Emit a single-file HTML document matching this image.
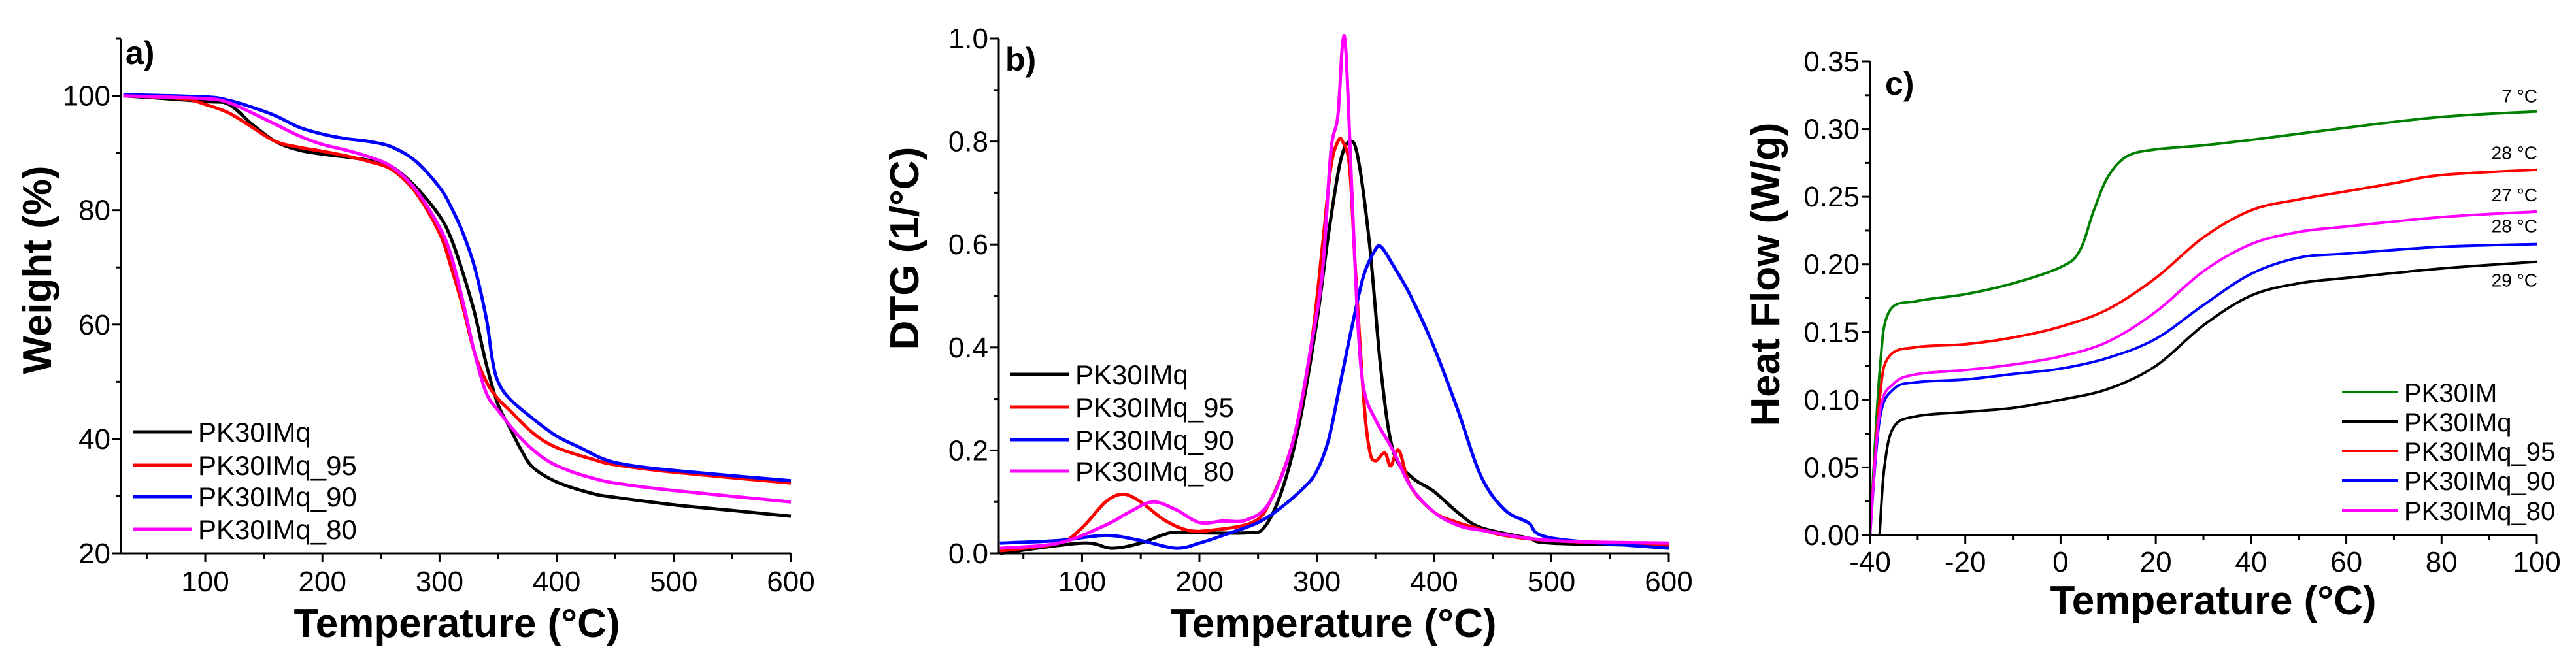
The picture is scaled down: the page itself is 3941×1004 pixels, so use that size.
<!DOCTYPE html>
<html><head><meta charset="utf-8"><style>
html,body{margin:0;padding:0;background:#fff}
svg{display:block}
text{font-family:"Liberation Sans",sans-serif;fill:#000}
</style></head><body>
<svg id="fig" width="3941" height="1004" viewBox="0 0 3941 1004" xmlns="http://www.w3.org/2000/svg"></svg>
<script>
// ---- Panel a data (TGA) ----
const aTemps_black=[30,100,120,140,160,180,200,220,240,260,280,300,310,320,330,340,350,360,370,380,400,430,450,500,550,600];
const aW_black=[100,99,98.5,95,92,90.5,89.8,89.3,88.7,87.5,84,79,75,69,62,53,46,42,38,35,32.5,30.5,29.8,28.5,27.5,26.5];
const aTemps_red=[30,80,100,120,140,160,180,200,220,240,260,280,300,310,320,330,340,350,360,380,400,430,450,500,600];
const aW_red=[100,99.5,98.5,97,94.5,92,91,90.3,89.5,88.5,87,83,76,70,63,55,50,47,45,41,38.5,36.5,35.5,34.2,32.3];
const aTemps_blue=[30,100,120,140,160,180,200,220,240,260,280,300,310,320,330,340,345,350,360,380,400,420,440,460,500,600];
const aW_blue=[100.2,99.8,99.2,98,96.5,94.5,93.3,92.5,92,91,88.5,84,80.5,76,70,61,54,50,47,43.5,40.5,38.5,36.5,35.5,34.5,32.7];
const aTemps_mag=[30,100,120,140,160,180,200,220,240,260,280,300,310,320,330,340,350,370,390,410,430,450,500,600];
const aW_mag=[100,99.5,98.8,97,95,93,91.5,90.5,89.3,87.5,83.5,77,72,64,55,48,45,40,36.5,34.5,33.2,32.3,31,29];
// ---- Panel b data (DTG) ----
const bT_black=[30,100,125,150,175,200,240,255,270,285,300,310,320,328,335,345,355,365,380,400,420,440,480,500,600];
const bD_black=[0,0.02,0.01,0.02,0.04,0.04,0.04,0.05,0.12,0.25,0.45,0.62,0.76,0.8,0.77,0.6,0.35,0.2,0.15,0.12,0.08,0.05,0.03,0.02,0.015];
const bT_red=[30,80,100,120,135,150,170,190,210,245,260,280,295,305,312,318,322,328,333,340,345,350,358,363,370,380,400,420,435,460,500,600];
const bD_red=[0.005,0.02,0.05,0.1,0.115,0.1,0.065,0.045,0.045,0.06,0.1,0.22,0.4,0.6,0.75,0.8,0.8,0.75,0.55,0.3,0.2,0.18,0.195,0.17,0.2,0.13,0.08,0.06,0.05,0.035,0.025,0.015];
const bT_blue=[30,80,120,150,180,200,220,250,270,290,300,310,320,330,340,350,355,365,380,400,420,440,460,480,500,600];
const bD_blue=[0.02,0.025,0.035,0.025,0.01,0.02,0.035,0.06,0.09,0.13,0.16,0.22,0.33,0.44,0.54,0.59,0.595,0.56,0.5,0.4,0.28,0.15,0.085,0.06,0.03,0.01];
const bT_mag=[30,80,120,140,160,180,200,220,240,260,280,295,305,312,318,322,325,330,335,340,350,365,380,400,420,440,500,600];
const bD_mag=[0.01,0.02,0.055,0.08,0.1,0.085,0.06,0.063,0.065,0.1,0.22,0.4,0.55,0.78,0.85,0.99,0.97,0.7,0.45,0.32,0.26,0.2,0.13,0.08,0.055,0.045,0.025,0.02];
// ---- Panel c data (DSC) ----
const cT_green=[-40,-38,-36,-30,-20,-10,0,4,7,10,14,20,30,40,60,80,100];
const cH_green=[0,0.12,0.165,0.173,0.178,0.186,0.198,0.21,0.24,0.265,0.28,0.285,0.288,0.292,0.301,0.309,0.313];
const cT_black=[-38,-37,-35,-30,-20,-10,0,10,20,30,40,50,60,80,100];
const cH_black=[0,0.05,0.08,0.088,0.091,0.094,0.1,0.108,0.125,0.155,0.177,0.186,0.19,0.197,0.202];
const cT_red=[-40,-38,-36,-30,-20,-10,0,10,20,30,40,50,60,70,80,100];
const cH_red=[0,0.1,0.132,0.139,0.141,0.146,0.154,0.167,0.19,0.22,0.24,0.248,0.254,0.26,0.266,0.27];
const cT_blue=[-40,-38,-35,-30,-20,-10,0,10,20,30,40,50,60,80,100];
const cH_blue=[0,0.085,0.108,0.113,0.115,0.119,0.123,0.131,0.145,0.17,0.193,0.205,0.208,0.213,0.215];
const cT_mag=[-40,-38,-35,-30,-20,-10,0,10,20,30,40,50,60,80,100];
const cH_mag=[0,0.09,0.112,0.119,0.122,0.126,0.132,0.143,0.165,0.195,0.215,0.224,0.228,0.235,0.239];
const cLabels=["7 °C","28 °C","27 °C","28 °C","29 °C"];
const cLabelYs=[0.313,0.27,0.239,0.215,0.202];

const NS="http://www.w3.org/2000/svg";
const svg=document.getElementById('fig');
function el(tag,attrs,parent){const e=document.createElementNS(NS,tag);for(const k in attrs)e.setAttribute(k,attrs[k]);(parent||svg).appendChild(e);return e;}
function path(xs,ys,sx,sy){
  const p=xs.map((x,i)=>[sx(x),sy(ys[i])]);
  let d=`M${p[0][0].toFixed(1)},${p[0][1].toFixed(1)}`;
  for(let i=0;i<p.length-1;i++){
    const p0=p[i-1]||p[i],p1=p[i],p2=p[i+1],p3=p[i+2]||p2;
    const c1=[p1[0]+(p2[0]-p0[0])/6,p1[1]+(p2[1]-p0[1])/6];
    const c2=[p2[0]-(p3[0]-p1[0])/6,p2[1]-(p3[1]-p1[1])/6];
    d+=` C${c1[0].toFixed(1)},${c1[1].toFixed(1)} ${c2[0].toFixed(1)},${c2[1].toFixed(1)} ${p2[0].toFixed(1)},${p2[1].toFixed(1)}`;
  }
  return d;
}
function isMaj(v,origin,step){const q=(v-origin)/step;return Math.abs(q-Math.round(q))<1e-6;}
function panel(cfg){
  const g=el('g',{});
  
  
  const sx=v=>cfg.x0+(v-cfg.xmin)/(cfg.xmax-cfg.xmin)*(cfg.x1-cfg.x0);
  const sy=v=>cfg.y0-(v-cfg.ymin)/(cfg.ymax-cfg.ymin)*(cfg.y0-cfg.y1);
  cfg.series.forEach(s=>{
    const p=el('path',{d:path(s.x,s.y,sx,sy),fill:'none',stroke:s.c,'stroke-width':cfg.lw,'stroke-linejoin':'round'},g);
    
    
  });
  const ax=el('path',{d:`M${cfg.x0},${cfg.y1} V${cfg.y0} H${cfg.x1}`,fill:'none',stroke:'#000','stroke-width':3},g);
  
  
  for(let i=0;;i++){
    const v=cfg.xt0+i*cfg.xminor; if(v>cfg.xmax+1e-9)break;
    const major=isMaj(v,cfg.xmaj0,cfg.xstep);
    el('line',{x1:sx(v),x2:sx(v),y1:cfg.y0,y2:cfg.y0+(major?13:8),stroke:'#000','stroke-width':3},g);
    if(major){const t=el('text',{x:sx(v),y:cfg.y0+cfg.xlabdy,'font-size':44,'text-anchor':'middle'},g);t.textContent=cfg.xfmt(v);
      }
  }
  for(let i=0;;i++){
    const v=cfg.ymin+i*cfg.yminor; if(v>cfg.ymax+1e-9)break;
    const major=isMaj(v,cfg.ymin,cfg.ystep);
    el('line',{x1:cfg.x0,x2:cfg.x0-(major?13:8),y1:sy(v),y2:sy(v),stroke:'#000','stroke-width':3},g);
    if(major&&v<=cfg.ylabmax+1e-9){const t=el('text',{x:cfg.x0-16,y:sy(v)+15,'font-size':44,'text-anchor':'end'},g);t.textContent=cfg.yfmt(v);
      }
  }
  const xt=el('text',{x:cfg.xtx,y:cfg.xty,'font-size':62,'font-weight':'bold','text-anchor':'middle'},g);
  xt.textContent='Temperature (°C)';
  const yt=el('text',{x:0,y:0,'font-size':62,'font-weight':'bold','text-anchor':'middle',transform:`translate(${cfg.ytx},${cfg.yty}) rotate(-90)`},g);
  yt.textContent=cfg.ytitle;
  const pl=el('text',{x:cfg.plx,y:cfg.ply,'font-size':50,'font-weight':'bold'},g);
  pl.textContent=cfg.plabel;
  cfg.series.forEach((s,i)=>{
    const ly=cfg.legY[i];
    const lg=el('g',{},g);
    
    
    el('line',{x1:cfg.legX,x2:cfg.legX+cfg.legW,y1:ly,y2:ly,stroke:s.c,'stroke-width':cfg.lw},lg);
    const t=el('text',{x:cfg.legX+cfg.legW+10,y:ly+15,'font-size':cfg.legFs},lg);t.textContent=s.n;
  });
  return {sx,sy,g};
}
const C={k:'#000000',r:'#ff0000',b:'#0000ff',m:'#ff00ff',g:'#008000'};
panel({name:'panel-a-tga',x0:185,x1:1210,y0:847,y1:59,xmin:28,xmax:600,ymin:20,ymax:110,ylabmax:100,
  xt0:50,xmaj0:0,xstep:100,xminor:50,ystep:20,yminor:10,xfmt:v=>String(Math.round(v)),yfmt:v=>String(Math.round(v)),
  lw:5,xlabdy:58,xtx:699,xty:975,ytx:78,yty:413,ytitle:'Weight (%)',plabel:'a)',plx:192,ply:98,
  legX:203,legW:90,legY:[661,712,760,810],legFs:42,
  series:[{n:'PK30IMq',c:C.k,x:aTemps_black,y:aW_black},{n:'PK30IMq_95',c:C.r,x:aTemps_red,y:aW_red},
          {n:'PK30IMq_90',c:C.b,x:aTemps_blue,y:aW_blue},{n:'PK30IMq_80',c:C.m,x:aTemps_mag,y:aW_mag}]});
panel({name:'panel-b-dtg',x0:1528,x1:2553,y0:847,y1:59,xmin:29,xmax:600,ymin:0,ymax:1.0,ylabmax:1.0,
  xt0:50,xmaj0:0,xstep:100,xminor:50,ystep:0.2,yminor:0.1,xfmt:v=>String(Math.round(v)),yfmt:v=>v.toFixed(1),
  lw:5,xlabdy:58,xtx:2040,xty:975,ytx:1405,yty:380,ytitle:'DTG (1/°C)',plabel:'b)',plx:1538,ply:108,
  legX:1545,legW:90,legY:[573,623,673,721],legFs:42,
  series:[{n:'PK30IMq',c:C.k,x:bT_black,y:bD_black},{n:'PK30IMq_95',c:C.r,x:bT_red,y:bD_red},
          {n:'PK30IMq_90',c:C.b,x:bT_blue,y:bD_blue},{n:'PK30IMq_80',c:C.m,x:bT_mag,y:bD_mag}]});
const pc=panel({name:'panel-c-dsc',x0:2861,x1:3881,y0:819,y1:94,xmin:-40,xmax:100,ymin:0,ymax:0.35,ylabmax:0.35,
  xt0:-40,xmaj0:-40,xstep:20,xminor:10,ystep:0.05,yminor:0.025,xfmt:v=>String(Math.round(v)),yfmt:v=>v.toFixed(2),
  lw:4,xlabdy:56,xtx:3386,xty:940,ytx:2722,yty:420,ytitle:'Heat Flow (W/g)',plabel:'c)',plx:2884,ply:145,
  legX:3583,legW:85,legY:[600,645,690,735,781],legFs:40,
  series:[{n:'PK30IM',c:C.g,x:cT_green,y:cH_green},{n:'PK30IMq',c:C.k,x:cT_black,y:cH_black},
          {n:'PK30IMq_95',c:C.r,x:cT_red,y:cH_red},{n:'PK30IMq_90',c:C.b,x:cT_blue,y:cH_blue},
          {n:'PK30IMq_80',c:C.m,x:cT_mag,y:cH_mag}]});
const offs=[-14,-16,-16,-18,38];
cLabels.forEach((s,i)=>{
  const t=el('text',{x:3882,y:pc.sy(cLabelYs[i])+offs[i],'font-size':28,'text-anchor':'end'},pc.g);
  t.textContent=s;
  
  
});
</script>
</body></html>
